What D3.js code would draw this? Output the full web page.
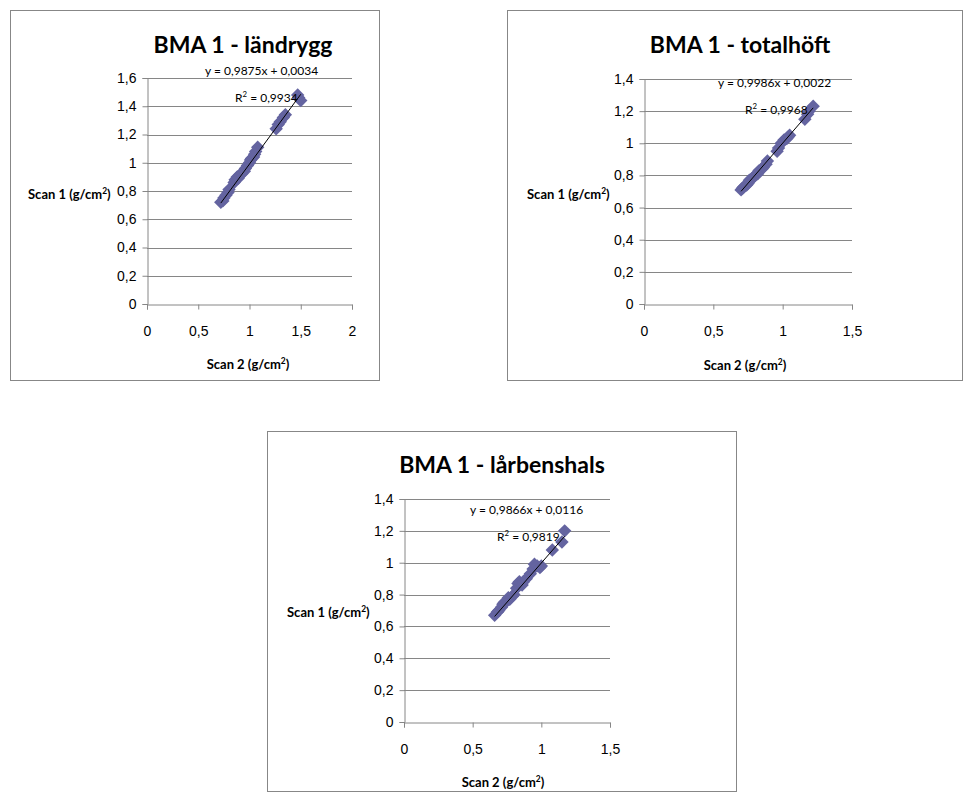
<!DOCTYPE html>
<html>
<head>
<meta charset="utf-8">
<script src="https://cdn.jsdelivr.net/npm/d3@7"></script>
<style>
  body { margin: 0; background: #fff; }
  svg { font-family: Lato, "Open Sans", sans-serif; }
  .tick text { font-size: 14px; fill: #000; }
  .domain, .tick line { stroke: #868686; }
</style>
</head>
<body>
<svg id="chart" width="963" height="792"></svg>
<script>
// Scan 2 (x) vs Scan 1 (y), g/cm2
const titles = ["BMA 1 - ländrygg", "BMA 1 - totalhöft", "BMA 1 - lårbenshals"];

const scan2Landrygg = [0.72, 0.74, 0.75, 0.77, 0.79, 0.80, 0.85, 0.86, 0.88, 0.89, 0.90, 0.92, 0.93, 0.95, 0.96, 0.98, 1.00, 1.01, 1.02, 1.04, 1.05, 1.06, 1.08, 1.26, 1.28, 1.30, 1.33, 1.35, 1.47, 1.48, 1.50];
const scan1Landrygg = [0.72, 0.73, 0.75, 0.77, 0.79, 0.81, 0.86, 0.88, 0.90, 0.89, 0.91, 0.92, 0.93, 0.94, 0.96, 0.98, 1.00, 1.02, 1.03, 1.04, 1.06, 1.08, 1.11, 1.24, 1.27, 1.29, 1.32, 1.34, 1.48, 1.46, 1.44];

const scan2Total = [0.70, 0.71, 0.72, 0.74, 0.75, 0.76, 0.78, 0.79, 0.80, 0.82, 0.83, 0.85, 0.86, 0.88, 0.89, 0.96, 0.97, 0.99, 1.01, 1.03, 1.04, 1.05, 1.16, 1.18, 1.19, 1.22];
const scan1Total = [0.71, 0.72, 0.73, 0.74, 0.75, 0.77, 0.78, 0.79, 0.80, 0.81, 0.83, 0.84, 0.85, 0.87, 0.89, 0.95, 0.97, 1.00, 1.02, 1.03, 1.04, 1.05, 1.15, 1.18, 1.20, 1.23];

const scan2Hals = [0.66, 0.68, 0.69, 0.71, 0.72, 0.73, 0.75, 0.76, 0.77, 0.79, 0.80, 0.82, 0.83, 0.84, 0.86, 0.87, 0.89, 0.92, 0.94, 0.95, 0.97, 0.99, 1.00, 1.08, 1.15, 1.17];
const scan1Hals = [0.67, 0.69, 0.70, 0.72, 0.74, 0.75, 0.76, 0.78, 0.77, 0.79, 0.80, 0.84, 0.87, 0.88, 0.86, 0.88, 0.90, 0.93, 0.96, 0.99, 0.98, 0.97, 0.98, 1.08, 1.13, 1.20];

// trendline coefficients and R2 as printed
const slopes = [0.9875, 0.9986, 0.9866];
const intercepts = [0.0034, 0.0022, 0.0116];
const rSquared = ["0,9934", "0,9968", "0,9819"];
const equations = ["y = 0,9875x + 0,0034", "y = 0,9986x + 0,0022", "y = 0,9866x + 0,0116"];

const xTicks = [[0, 0.5, 1, 1.5, 2], [0, 0.5, 1, 1.5], [0, 0.5, 1, 1.5]];
const yTicks = [
  [0, 0.2, 0.4, 0.6, 0.8, 1, 1.2, 1.4, 1.6],
  [0, 0.2, 0.4, 0.6, 0.8, 1, 1.2, 1.4],
  [0, 0.2, 0.4, 0.6, 0.8, 1, 1.2, 1.4]
];

const series = [
  { xs: scan2Landrygg, ys: scan1Landrygg },
  { xs: scan2Total, ys: scan1Total },
  { xs: scan2Hals, ys: scan1Hals }
];

// layout of each chart box
const layouts = [
  { box: [10, 10, 369, 370], plot: [147, 352, 78, 304], title: [243, 53], eq: [205, 75], r2: [235, 102], yTitle: [28, 199], xTitle: [248, 369] },
  { box: [507, 10, 455, 370], plot: [644, 852, 79, 304], title: [740, 53], eq: [718, 87], r2: [745, 114], yTitle: [527, 199], xTitle: [745, 370] },
  { box: [267, 431, 469, 360], plot: [404, 610, 499, 722], title: [502, 473], eq: [470, 514], r2: [497, 541], yTitle: [287, 617], xTitle: [503, 787] }
];

const markerColor = "#6464a0";
const fmt = d => String(d).replace(".", ",");
const svg = d3.select("#chart");

// write text with a superscript 2 inside
function supText(sel, before, after) {
  sel.append("tspan").text(before);
  sel.append("tspan").attr("dy", -5).attr("font-size", "0.65em").text("2");
  sel.append("tspan").attr("dy", 5).text(after);
}

layouts.forEach((L, i) => {
  const g = svg.append("g");
  const [bx, by, bw, bh] = L.box;
  const [left, right, top, bottom] = L.plot;

  g.append("rect")
    .attr("x", bx + 0.5).attr("y", by + 0.5)
    .attr("width", bw).attr("height", bh)
    .attr("fill", "#fff").attr("stroke", "#878787");

  const x = d3.scaleLinear().domain(d3.extent(xTicks[i])).range([left, right]);
  const y = d3.scaleLinear().domain(d3.extent(yTicks[i])).range([bottom, top]);

  // gridlines
  g.append("g").selectAll("line")
    .data(yTicks[i].slice(1))
    .enter().append("line")
    .attr("x1", left).attr("x2", right)
    .attr("y1", d => Math.round(y(d)) + 0.5).attr("y2", d => Math.round(y(d)) + 0.5)
    .attr("stroke", "#868686");

  // axes
  g.append("g")
    .attr("transform", `translate(0,${Math.round(bottom) + 0.5})`)
    .call(d3.axisBottom(x).tickValues(xTicks[i]).tickFormat(fmt).tickSizeOuter(0).tickSize(5).tickPadding(17));
  g.append("g")
    .attr("transform", `translate(${Math.round(left) + 0.5},0)`)
    .call(d3.axisLeft(y).tickValues(yTicks[i]).tickFormat(fmt).tickSizeOuter(0).tickSize(5).tickPadding(6));

  // points
  const pts = series[i].xs.map((v, k) => [v, series[i].ys[k]]);
  g.append("g").selectAll("path")
    .data(pts)
    .enter().append("path")
    .attr("d", d3.symbol(d3.symbolSquare, 90))
    .attr("transform", d => `translate(${x(d[0])},${y(d[1])}) rotate(45)`)
    .attr("fill", markerColor);

  // trendline
  const ext = d3.extent(series[i].xs);
  g.append("line")
    .attr("x1", x(ext[0])).attr("y1", y(slopes[i] * ext[0] + intercepts[i]))
    .attr("x2", x(ext[1])).attr("y2", y(slopes[i] * ext[1] + intercepts[i]))
    .attr("stroke", "#000").attr("stroke-width", 1);

  // title
  g.append("text")
    .attr("x", L.title[0]).attr("y", L.title[1])
    .attr("text-anchor", "middle")
    .attr("font-size", 23).attr("font-weight", "bold")
    .text(titles[i]);

  // equation + R2
  g.append("text")
    .attr("x", L.eq[0]).attr("y", L.eq[1])
    .attr("font-size", 12)
    .text(equations[i]);
  supText(g.append("text").attr("x", L.r2[0]).attr("y", L.r2[1]).attr("font-size", 12), "R", " = " + rSquared[i]);

  // axis titles
  supText(g.append("text").attr("x", L.yTitle[0]).attr("y", L.yTitle[1])
    .attr("font-size", 13).attr("font-weight", "bold"), "Scan 1 (g/cm", ")");
  supText(g.append("text").attr("x", L.xTitle[0]).attr("y", L.xTitle[1])
    .attr("text-anchor", "middle")
    .attr("font-size", 13).attr("font-weight", "bold"), "Scan 2 (g/cm", ")");
});
</script>
</body>
</html>
